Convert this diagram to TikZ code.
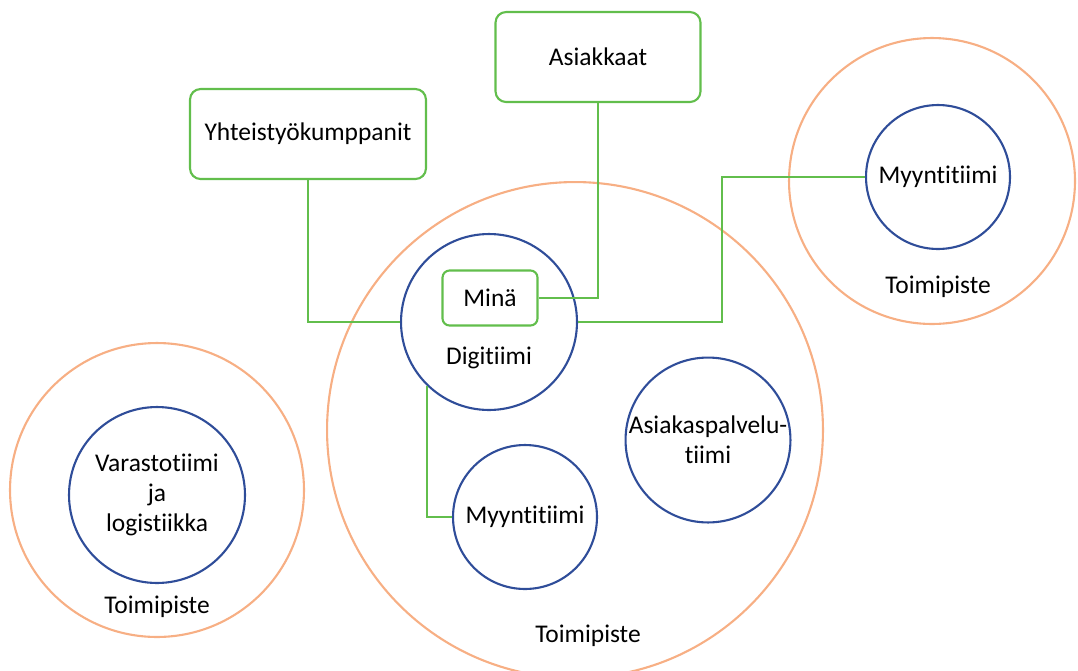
\documentclass[tikz,border=0pt]{standalone}
\usepackage{fontspec}
\setmainfont[Ligatures=NoCommon]{Carlito}
\usepackage{tikz}

\definecolor{sitecol}{HTML}{F7AF84}
\definecolor{teamcol}{HTML}{2F4D99}
\definecolor{linkcol}{HTML}{62BE4C}

\begin{document}
\begin{tikzpicture}
[x=0.02cm,y=-0.02cm,
site/.style={circle,draw=sitecol,line width=1.2pt,inner sep=0pt},
team/.style={circle,draw=teamcol,line width=1.2pt,inner sep=0pt,align=center},
box/.style={rectangle,rounded corners=6pt,draw=linkcol,line width=1.2pt,fill=white},
link/.style={draw=linkcol,line width=1.2pt},
every node/.append style={font=\fontsize{14.5}{17}\selectfont}]
\useasboundingbox (0,0) rectangle (1078,670);
% toimipisteet
\node[site,minimum size=9.92cm] at (575,430) (t1) {};
\node[site,minimum size=5.72cm] at (932,181) (t2) {};
\node[site,minimum size=5.88cm] at (157,490) (t3) {};
\node at (588,636) (t1l) {Toimipiste};
\node at (938,287) (t2l) {Toimipiste};
\node at (157,607) (t3l) {Toimipiste};
% tiimit
\node[team,minimum size=3.52cm] at (489,322) (digi) {};
\node at (489,358) (digil) {Digitiimi};
\node[team,minimum size=2.88cm] at (525,517) (myyn1) {Myyntitiimi};
\node[team,minimum size=3.2cm] at (708,440) (apt) {Asiakaspalvelu-\\tiimi};
\node[team,minimum size=2.88cm] at (938,177) (myyn2) {Myyntitiimi};
\node[team,minimum size=3.52cm] at (157,495) (var) {Varastotiimi\\ja\\logistiikka};
% laatikot
\node[box,rounded corners=4pt,minimum width=1.9cm,minimum height=1.1cm] at (490,298) (mina) {Minä};
\node[box,minimum width=4.1cm,minimum height=1.8cm] at (598,57) (asi) {Asiakkaat};
\node[box,minimum width=4.72cm,minimum height=1.8cm] at (308,134) (yht) {Yhteistyökumppanit};
% yhteydet
\coordinate (bend) at (722,322);
\draw[link] (yht.south) |- (digi.west);
\draw[link] (asi.south) |- (mina.east);
\draw[link] (digi.east) -- (bend) |- (myyn2.west);
\draw[link] (digi.226) |- (myyn1.west);
\end{tikzpicture}
\end{document}
